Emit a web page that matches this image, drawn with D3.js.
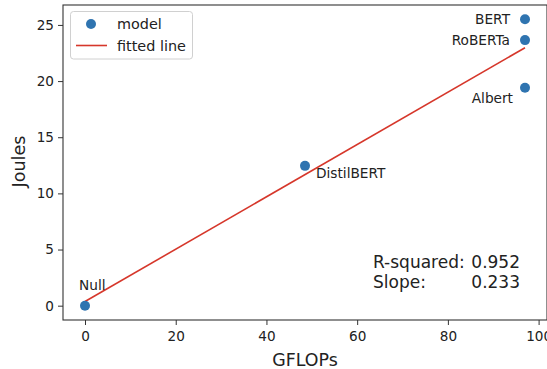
<!DOCTYPE html>
<html>
<head>
<meta charset="utf-8">
<script src="https://cdn.jsdelivr.net/npm/d3@7"></script>
<style>
  body { margin: 0; background: #fff; }
  text { font-family: "DejaVu Sans", sans-serif; fill: #222; }
  .axis path, .axis line { stroke: #333; }
  .axis text { font-size: 13.6px; fill: #222; }
</style>
</head>
<body>
<div id="chart"></div>
<script>
// data
var models = ["Null", "DistilBERT", "BERT", "RoBERTa", "Albert"];
var gflops = [0, 48.5, 97, 97, 97];
var joules = [0, 12.45, 25.5, 23.65, 19.4];

// fitted line end points
var fitX = [0, 97];
var fitY = [0.37, 22.97];

var xTicks = [0, 20, 40, 60, 80, 100];
var yTicks = [0, 5, 10, 15, 20, 25];

var statNames = ["R-squared:", "Slope:"];
var statValues = ["0.952", "0.233"];

var legendLabels = ["model", "fitted line"];

var width = 547, height = 369;
var margin = {top: 5, right: 0, bottom: 49, left: 63};

var blue = "#2f74b0", red = "#d6372b";

// label placement relative to its point (px)
var labelPos = {
  "Null": {dx: -6, dy: -21, anchor: "start"},
  "DistilBERT": {dx: 11, dy: 7, anchor: "start"},
  "BERT": {dx: -15, dy: 0, anchor: "end"},
  "RoBERTa": {dx: -15, dy: 0, anchor: "end"},
  "Albert": {dx: -12, dy: 10, anchor: "end"}
};

var svg = d3.select("#chart").append("svg")
    .attr("width", width)
    .attr("height", height);

var x = d3.scaleLinear()
    .domain([-4.85, 101.85])
    .range([margin.left, width - margin.right]);

var y = d3.scaleLinear()
    .domain([-1.275, 26.775])
    .range([height - margin.bottom, margin.top]);

var points = models.map((m, i) => ({name: m, x: gflops[i], y: joules[i]}));

// fitted line
svg.append("line")
    .attr("x1", x(fitX[0])).attr("y1", y(fitY[0]))
    .attr("x2", x(fitX[1])).attr("y2", y(fitY[1]))
    .attr("stroke", red)
    .attr("stroke-width", 1.6);

// points
svg.append("g")
    .selectAll("circle")
    .data(points)
    .enter().append("circle")
    .attr("cx", d => x(d.x))
    .attr("cy", d => y(d.y))
    .attr("r", 5)
    .attr("fill", blue);

// point labels
svg.append("g")
    .selectAll("text")
    .data(points)
    .enter().append("text")
    .attr("x", d => x(d.x) + labelPos[d.name].dx)
    .attr("y", d => y(d.y) + labelPos[d.name].dy)
    .attr("dy", "0.36em")
    .attr("text-anchor", d => labelPos[d.name].anchor)
    .style("font-size", "13.7px")
    .text(d => d.name);

// axes
svg.append("g")
    .attr("class", "axis")
    .attr("transform", "translate(0," + (height - margin.bottom) + ")")
    .call(d3.axisBottom(x).tickValues(xTicks).tickSize(5).tickPadding(6).tickSizeOuter(0))
    .call(g => g.select(".domain").remove());

svg.append("g")
    .attr("class", "axis")
    .attr("transform", "translate(" + margin.left + ",0)")
    .call(d3.axisLeft(y).tickValues(yTicks).tickSize(5).tickPadding(4).tickSizeOuter(0))
    .call(g => g.select(".domain").remove());

// frame
svg.append("rect")
    .attr("x", margin.left)
    .attr("y", margin.top)
    .attr("width", width - margin.right - margin.left)
    .attr("height", height - margin.bottom - margin.top)
    .attr("fill", "none")
    .attr("stroke", "#333")
    .attr("stroke-width", 1.1);

// axis titles
svg.append("text")
    .attr("x", (margin.left + width - margin.right) / 2)
    .attr("y", 366)
    .attr("text-anchor", "middle")
    .style("font-size", "17.4px")
    .text("GFLOPs");

svg.append("text")
    .attr("transform", "translate(25," + 161.5 + ") rotate(-90)")
    .attr("text-anchor", "middle")
    .style("font-size", "17.6px")
    .text("Joules");

// stats
var stats = svg.append("g").style("font-size", "17px");
statNames.forEach((s, i) => {
  stats.append("text")
      .attr("x", 373)
      .attr("y", 268 + i * 20)
      .text(s);
  stats.append("text")
      .attr("x", 520)
      .attr("y", 268 + i * 20)
      .attr("text-anchor", "end")
      .text(statValues[i]);
});

// legend
var legend = svg.append("g");
legend.append("rect")
    .attr("x", 70.5).attr("y", 11.5)
    .attr("width", 122).attr("height", 47.5)
    .attr("rx", 3)
    .attr("fill", "#fff").attr("fill-opacity", 0.8)
    .attr("stroke", "#d0d0d0");
legend.append("circle")
    .attr("cx", 91).attr("cy", 24)
    .attr("r", 5)
    .attr("fill", blue);
legend.append("line")
    .attr("x1", 76).attr("x2", 107)
    .attr("y1", 45.5).attr("y2", 45.5)
    .attr("stroke", red).attr("stroke-width", 1.6);
legendLabels.forEach((t, i) => {
  legend.append("text")
      .attr("x", 117)
      .attr("y", 24 + i * 21.5)
      .attr("dy", "0.36em")
      .style("font-size", "14.4px")
      .text(t);
});
</script>
</body>
</html>
